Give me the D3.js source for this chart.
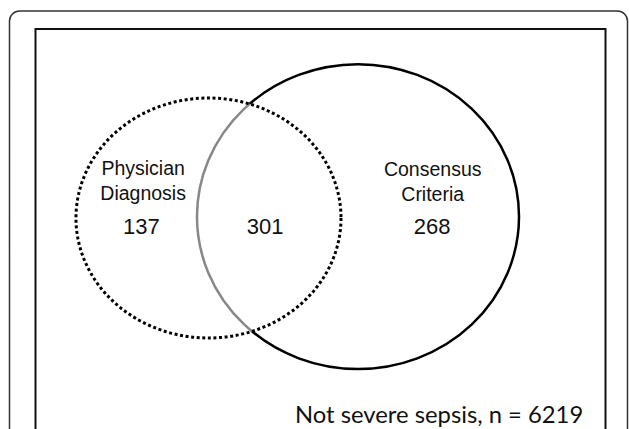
<!DOCTYPE html>
<html>
<head>
<meta charset="utf-8">
<script src="https://cdn.jsdelivr.net/npm/d3@7"></script>
<style>
  html, body { margin: 0; padding: 0; background: #fff; }
  svg { display: block; }
</style>
</head>
<body>
<svg width="629" height="429"></svg>
<script>
const width = 629;
const height = 429;

// set names and region counts
const setNames = [["Physician", "Diagnosis"], ["Consensus", "Criteria"]];
const regionCounts = [137, 301, 268];
const outsideCount = 6219;
const outsideLabel = "Not severe sepsis, n = ";

// venn layout in plot units (0-100 on both axes)
const ellipses = [
    { cx: 30.26, cy: 47.25, rx: 23.25, ry: 30.0 },
    { cx: 56.49, cy: 46.9, rx: 28.25, ry: 38.1 },
];
const nameAt = [[18.8, 36.6], [69.6, 36.8]];
const countAt = [[18.5, 51.3], [40.2, 51.3], [69.5, 51.3]];

const svg = d3.select("svg");

const x = d3.scaleLinear().domain([0, 100]).range([36, 606]);
const y = d3.scaleLinear().domain([0, 100]).range([29, 429]);

// outer rounded frame
svg.append("rect")
    .attr("x", 9.5)
    .attr("y", 11)
    .attr("width", 618)
    .attr("height", 480)
    .attr("rx", 10)
    .attr("fill", "none")
    .attr("stroke", "#333")
    .attr("stroke-width", 1.5);

// inner plot box
svg.append("rect")
    .attr("x", x(0) - 0.5)
    .attr("y", y(0))
    .attr("width", x(100) - x(0))
    .attr("height", 480)
    .attr("fill", "none")
    .attr("stroke", "#111")
    .attr("stroke-width", 2);

const ell = (sel, d) =>
    sel.attr("cx", x(d.cx))
        .attr("cy", y(d.cy))
        .attr("rx", x(d.rx) - x(0))
        .attr("ry", y(d.ry) - y(0))
        .attr("fill", "none");

svg.append("clipPath")
    .attr("id", "left-clip")
    .append("ellipse")
    .call(ell, ellipses[0]);

// consensus criteria: solid
svg.append("ellipse")
    .call(ell, ellipses[1])
    .attr("stroke", "#000")
    .attr("stroke-width", 2.5);

// part of it inside physician diagnosis is grey
svg.append("ellipse")
    .call(ell, ellipses[1])
    .attr("clip-path", "url(#left-clip)")
    .attr("stroke", "#fff")
    .attr("stroke-width", 4);
svg.append("ellipse")
    .call(ell, ellipses[1])
    .attr("clip-path", "url(#left-clip)")
    .attr("stroke", "#888")
    .attr("stroke-width", 2.5);

// physician diagnosis: dotted
svg.append("ellipse")
    .call(ell, ellipses[0])
    .attr("stroke", "#000")
    .attr("stroke-width", 3)
    .attr("stroke-dasharray", "3,2.6");

const font = "Liberation Sans, Arial, sans-serif";

setNames.forEach((lines, i) => {
    svg.append("text")
        .attr("x", x(nameAt[i][0]))
        .attr("y", y(nameAt[i][1]))
        .attr("text-anchor", "middle")
        .style("font", `19.5px ${font}`)
        .attr("fill", "#111")
        .selectAll("tspan")
        .data(lines)
        .join("tspan")
        .attr("x", x(nameAt[i][0]))
        .attr("dy", (d, j) => (j ? 24.5 : 0))
        .text((d) => d);
});

svg.selectAll(".count")
    .data(regionCounts)
    .join("text")
    .attr("class", "count")
    .attr("x", (d, i) => x(countAt[i][0]))
    .attr("y", (d, i) => y(countAt[i][1]))
    .attr("text-anchor", "middle")
    .style("font", `22px ${font}`)
    .attr("fill", "#111")
    .text((d) => d);

svg.append("text")
    .attr("x", x(96))
    .attr("y", y(98.5))
    .attr("text-anchor", "end")
    .style("font", "23.8px Lato, 'Open Sans', sans-serif")
    .attr("fill", "#111")
    .text(outsideLabel + outsideCount);
</script>
</body>
</html>
